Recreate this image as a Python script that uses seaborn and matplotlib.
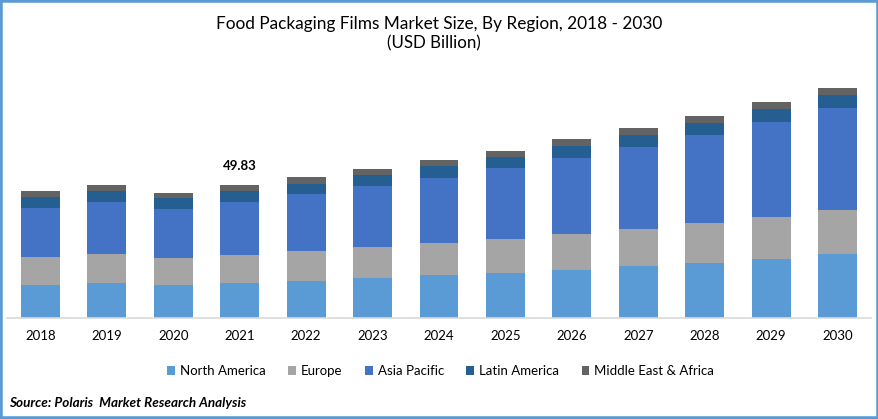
import matplotlib
matplotlib.use("Agg")
import matplotlib.pyplot as plt
import seaborn as sns
import numpy as np
from matplotlib.patches import Rectangle

years = ["2018", "2019", "2020", "2021", "2022", "2023", "2024", "2025", "2026", "2027", "2028", "2029", "2030"]
north_america = [12.37, 13.11, 12.37, 13.11, 13.86, 14.99, 16.11, 16.86, 17.99, 19.48, 20.61, 22.11, 23.98]
europe = [10.49, 10.87, 10.12, 10.49, 11.24, 11.62, 11.99, 12.74, 13.49, 13.86, 14.99, 15.74, 16.49]
asia_pacific = [18.36, 19.48, 18.36, 19.86, 21.36, 22.86, 24.36, 26.60, 28.48, 30.73, 32.97, 35.60, 38.22]
latin_america = [4.12, 4.12, 4.12, 4.12, 3.75, 4.12, 4.50, 4.12, 4.50, 4.50, 4.50, 4.87, 4.87]
mea = [2.25, 2.25, 1.87, 2.25, 2.62, 2.25, 2.25, 2.25, 2.62, 2.62, 2.62, 2.62, 2.62]

regions = ["North America", "Europe", "Asia Pacific", "Latin America", "Middle East & Africa"]
series = [north_america, europe, asia_pacific, latin_america, mea]
colors = ["#5B9BD5", "#A5A5A5", "#4472C4", "#255E91", "#636363"]

sns.set_theme(style="white")
plt.rcParams["font.family"] = ["Lato", "DejaVu Sans"]

W, H = 879, 419
fig = plt.figure(figsize=(W / 100, H / 100), dpi=100)
ax = fig.add_axes([7.3 / W, (H - 318) / H, (870.7 - 7.3) / W, 248 / H])

# stacked bars
bottom = np.zeros(len(years))
for name, vals, col in zip(regions, series, colors):
    sns.barplot(x=years, y=vals, bottom=bottom, color=col, saturation=1, width=0.587,
                label=name, ax=ax, legend=False, linewidth=0)
    bottom += np.array(vals)

ax.set_xlim(-0.5, 12.5)
ax.set_ylim(0, 92.9)
ax.set_yticks([])
ax.tick_params(axis="x", length=0, pad=8.5, labelsize=9.5, labelcolor="black")
sns.despine(ax=ax, left=True)
ax.spines["bottom"].set_color("#D9D9D9")
ax.spines["bottom"].set_linewidth(1.2)

# label on 2021 only
ax.text(3, bottom[3] + 7, "49.83", ha="center", va="center", fontsize=9.5, fontweight="bold", color="black")

fig.text(439.5 / W, 1 - 24 / H, "Food Packaging Films Market Size, By Region, 2018 - 2030",
         ha="center", va="center", fontsize=12.45, color="black")
fig.text(433.5 / W, 1 - 43.5 / H, "(USD Billion)", ha="center", va="center", fontsize=12.2, color="black")

handles, labels = ax.get_legend_handles_labels()
fig.legend(handles, labels, loc="center", bbox_to_anchor=(440.5 / W, 1 - 371 / H), ncol=5, frameon=False,
           fontsize=9.5, handlelength=0.6, handleheight=0.6, handletextpad=0.38, columnspacing=1.7,
           labelcolor="black")

fig.text(9 / W, 1 - 403 / H, "Source: Polaris  Market Research Analysis", ha="left", va="center",
         fontsize=9.75, fontweight="bold", fontstyle="italic", color="black")

# blue frame round the picture
fig.add_artist(Rectangle((0, 0), 1, 1, transform=fig.transFigure, fill=False,
                         edgecolor="#5B9BD5", linewidth=4))

fig.savefig("out.png", dpi=100)
